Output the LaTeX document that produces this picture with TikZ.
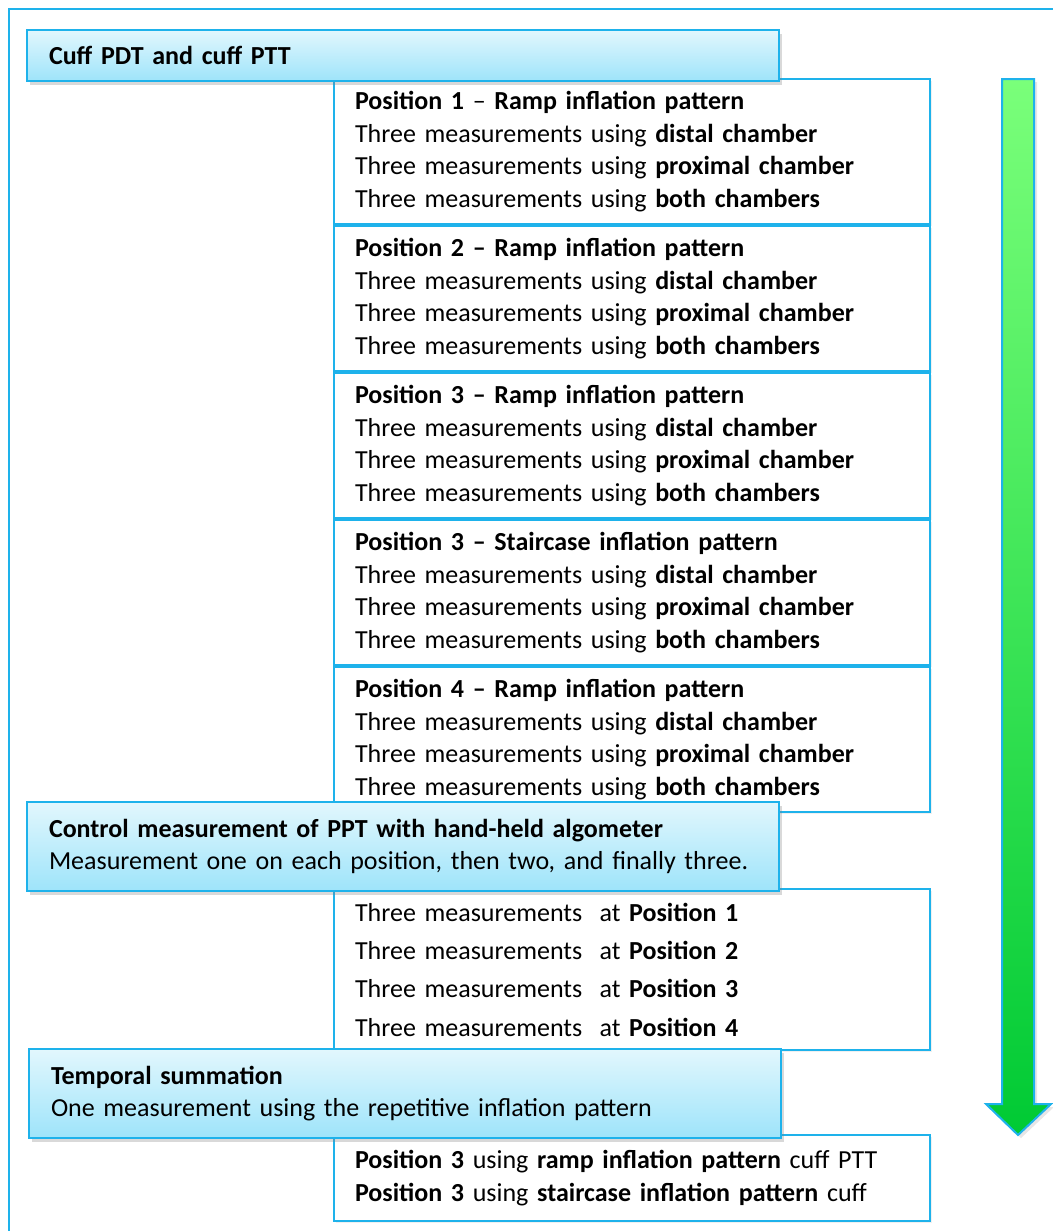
\documentclass[tikz,border=0pt]{standalone}
\usepackage{fontspec}
\setmainfont{Carlito}
\usepackage{tikz}
\usetikzlibrary{positioning, shadows}
\usepackage{xcolor}
\definecolor{frameblue}{RGB}{30,178,235}
\definecolor{headtop}{RGB}{226,247,253}
\definecolor{headbot}{RGB}{158,228,250}
\definecolor{arrowtop}{RGB}{122,255,122}
\definecolor{arrowmid}{RGB}{8,236,112}
\definecolor{arrowbot}{RGB}{0,202,52}
\newcommand{\chambers}{Three measurements using \textbf{distal chamber}\\
Three measurements using \textbf{proximal chamber}\\
Three measurements using \textbf{both chambers}}

\begin{document}
\begin{tikzpicture}[x=1pt,y=-1pt,node distance=0pt,font=\fontsize{26}{32.5}\selectfont]
    \tikzstyle{posbox}=[draw=frameblue,line width=2pt,fill=white,anchor=north west,minimum height=145pt,text width=554pt,inner xsep=21pt,inner ysep=0pt,align=left,drop shadow={opacity=0.12,shadow xshift=2pt,shadow yshift=-2pt}]
    \tikzstyle{headbox}=[draw=frameblue,line width=2pt,top color=headtop,bottom color=headbot,anchor=north west,text width=708pt,inner xsep=22pt,inner ysep=0pt,align=left,drop shadow={opacity=0.3,shadow xshift=3pt,shadow yshift=-4pt}]

    \useasboundingbox (0,0) rectangle (1052,1231);
    \draw[frameblue,line width=2pt] (9,9) rectangle (1070,1250);

    \node[posbox] at (333,78) (P1) {\textbf{Position 1} -- \textbf{Ramp inflation pattern}\\\chambers};
    \node[posbox, below=of P1] (P2) {\textbf{Position 2 -- Ramp inflation pattern}\\\chambers};
    \node[posbox, below=of P2] (P3) {\textbf{Position 3 -- Ramp inflation pattern}\\\chambers};
    \node[posbox, below=of P3] (P3s) {\textbf{Position 3 -- Staircase inflation pattern}\\\chambers};
    \node[posbox, below=of P3s] (P4) {\textbf{Position 4 -- Ramp inflation pattern}\\\chambers};
    \node[posbox, minimum height=161pt] at (333,888) (PPTlist) {Three measurements\ \ at \textbf{Position 1}\\[5.8pt]
      Three measurements\ \ at \textbf{Position 2}\\[5.8pt]
      Three measurements\ \ at \textbf{Position 3}\\[5.8pt]
      Three measurements\ \ at \textbf{Position 4}};
    \node[posbox, minimum height=86pt] at (333,1134) (TSlist) {\textbf{Position 3} using \textbf{ramp inflation pattern} cuff PTT\\
      \textbf{Position 3} using \textbf{staircase inflation pattern} cuff};

    \node[headbox, minimum height=51pt] at (26,29) (H1) {\textbf{Cuff PDT and cuff PTT}};
    \node[headbox, minimum height=89pt] at (26,801) (H2) {\textbf{Control measurement of PPT with hand-held algometer}\\
      Measurement one on each position, then two, and finally three.};
    \node[headbox, minimum height=89pt] at (28,1048) (H3) {\textbf{Temporal summation}\\
      One measurement using the repetitive inflation pattern};

    \path[draw=frameblue,line width=2pt,top color=arrowtop,middle color=arrowmid,bottom color=arrowbot,drop shadow={opacity=0.2,shadow xshift=3pt,shadow yshift=-3pt}]
    (1002,79) -- (1034,79) -- (1034,1104) -- (1051,1104) -- (1018,1135) -- (986,1104) -- (1002,1104) -- cycle;

\end{tikzpicture}
\end{document}
